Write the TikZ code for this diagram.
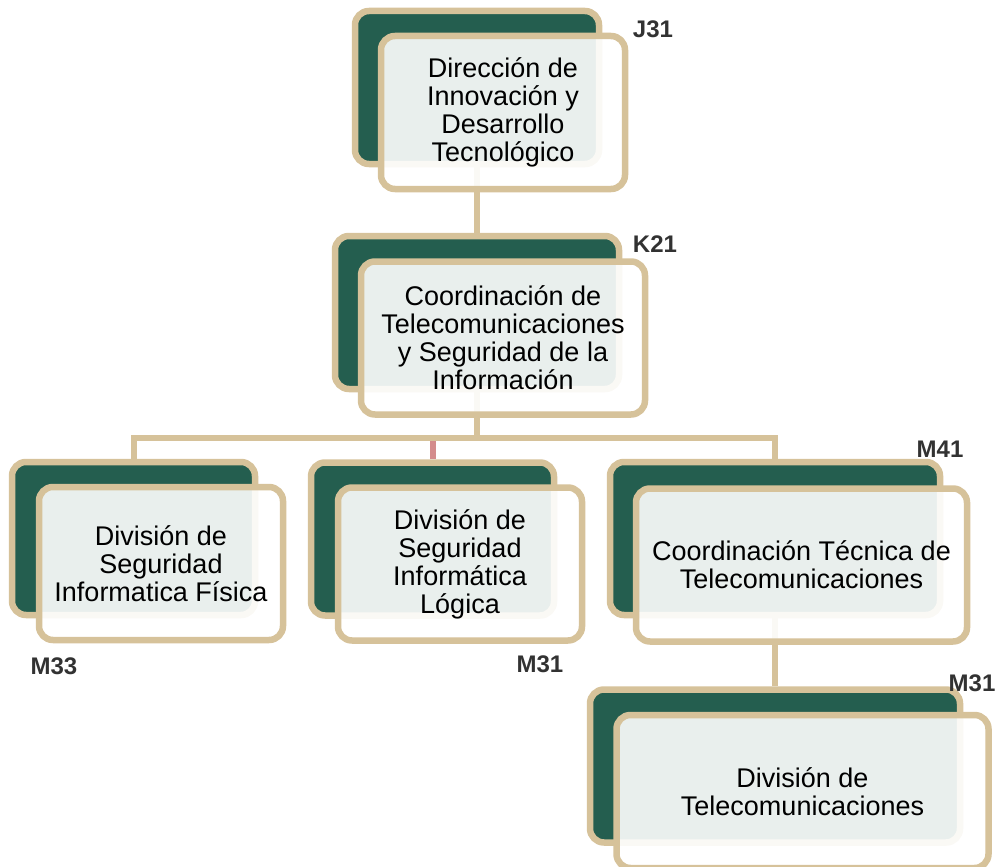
\documentclass[tikz,border=0pt]{standalone}
\usepackage{fontspec}
\setmainfont{Liberation Sans}
\usetikzlibrary{backgrounds}
\definecolor{dkgreen}{RGB}{36,94,79}
\definecolor{tanc}{RGB}{214,194,154}
\definecolor{stubc}{RGB}{212,140,140}
\definecolor{lbl}{RGB}{50,50,50}
\begin{document}
\begin{tikzpicture}[x=1pt,y=-1pt,
  back/.style={draw=tanc, line width=6.5pt, fill=dkgreen, rounded corners=14pt, inner sep=0pt, minimum height=153pt},
  front/.style={draw=tanc, line width=6.5pt, fill=white, fill opacity=0.9, text opacity=1, rounded corners=14pt, inner sep=0pt, minimum height=153pt, align=center, font=\fontsize{27}{28}\selectfont},
  conn/.style={draw=tanc, line width=6pt},
  stubline/.style={draw=stubc, line width=6pt},
  code/.style={font=\fontsize{24}{24}\bfseries\selectfont, text=lbl, inner sep=0pt}]
\useasboundingbox (0,0) rectangle (999,867);

% top
\node[back, minimum width=244pt] (j31b) at (477,87.5) {};
\node[front, minimum width=244pt] (j31f) at (503,112.5) {Dirección de\\Innovación y\\Desarrollo\\Tecnológico};
\node[code] (j31l) at (653,29) {J31};

% K21
\node[back, minimum width=284pt] (k21b) at (477,312.5) {};
\node[front, minimum width=284pt] (k21f) at (503,338) {Coordinación de\\Telecomunicaciones\\y Seguridad de la\\Información};
\node[code] (k21l) at (655,244) {K21};

% left
\node[back, minimum width=243pt] (m33b) at (133.5,538.5) {};
\node[front, minimum width=244pt] (m33f) at (161,563.5) {División de\\Seguridad\\Informatica Física};
\node[code] (m33l) at (54,666) {M33};

% middle
\node[back, minimum width=243pt] (m31b) at (432.5,539) {};
\node[front, minimum width=244pt] (m31f) at (460,564) {División de\\Seguridad\\Informática\\Lógica};
\node[code] (m31l) at (540,664) {M31};

% right
\node[back, minimum width=330pt] (m41b) at (775,538.5) {};
\node[front, minimum width=331pt] (m41f) at (801.5,565) {Coordinación Técnica de\\Telecomunicaciones};
\node[code] (m41l) at (940,449) {M41};

% bottom
\node[back, minimum width=370pt] (dtb) at (775,766) {};
\node[front, minimum width=372pt] (dtf) at (802.5,791.5) {División de\\Telecomunicaciones};
\node[code] (dtl) at (972,683) {M31};

\coordinate (bus) at (477,438);

\begin{scope}[on background layer]
  \draw[conn] (j31b.south) -- (k21b.north);
  \draw[conn] (k21b.south) -- (bus);
  \draw[stubline] (bus -| m31b.north) -- (m31b.north);
  \draw[conn] (m33b.north) |- (bus) -| (m41b.north);
  \draw[conn] (m41b.south) -- (dtb.north);
\end{scope}
\end{tikzpicture}
\end{document}
